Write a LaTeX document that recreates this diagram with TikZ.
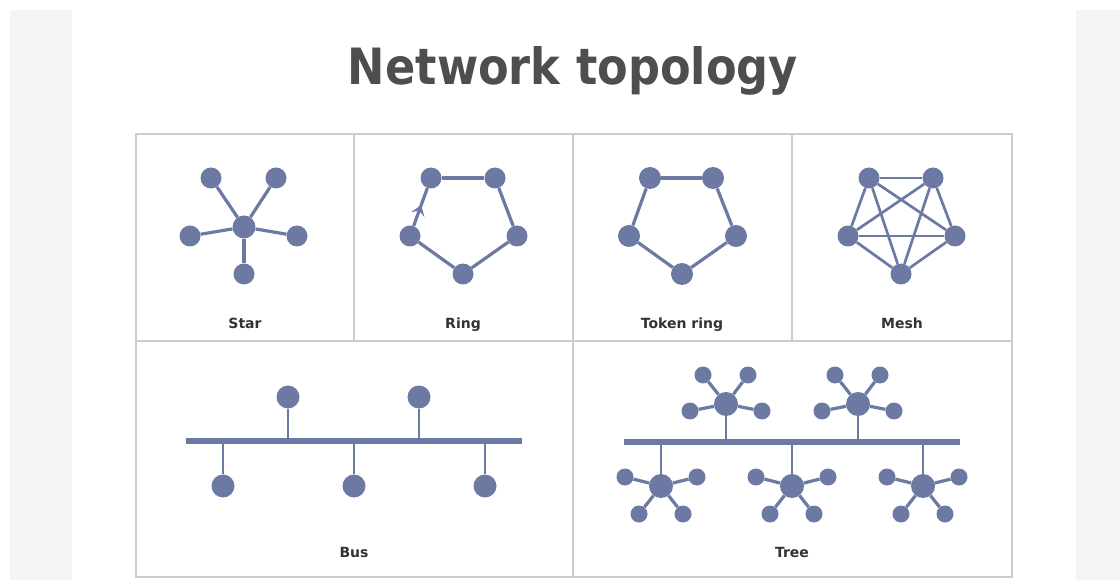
\documentclass[tikz,border=0pt]{standalone}
\usepackage{graphicx}
\usepackage{fontspec}
\setmainfont{DejaVu Sans}
\usetikzlibrary{decorations.markings,arrows.meta}
\definecolor{nodec}{RGB}{108,122,163}
\definecolor{gridc}{RGB}{204,204,204}
\definecolor{titlec}{RGB}{77,78,80}
\definecolor{labc}{RGB}{50,50,52}
\definecolor{stripc}{RGB}{244,244,244}
\begin{document}
\begin{tikzpicture}[x=1pt,y=-1pt,
  nd/.style={circle,fill=nodec,inner sep=0pt,minimum size=21pt},
  hub/.style={circle,fill=nodec,inner sep=0pt,minimum size=24pt},
  leaf/.style={circle,fill=nodec,inner sep=0pt,minimum size=17pt},
  ln/.style={draw=nodec,line width=3.2pt},
  thin ln/.style={draw=nodec,line width=2.7pt},
  stem/.style={draw=nodec,line width=2.8pt},
  busline/.style={draw=nodec,line width=5.5pt},
  grid line/.style={draw=gridc,line width=1.6pt},
  lab/.style={text=labc,font=\bfseries\fontsize{14}{16}\selectfont,anchor=base,inner sep=0pt},
  midarrow/.style={postaction={decorate},decoration={markings,mark=at position 0.55 with {\arrow{Stealth[length=10pt,width=14pt,inset=4pt]}}}}
]
\useasboundingbox (0,0) rectangle (1120,580);
\fill[white] (0,0) rectangle (1120,580);
% side strips
\fill[stripc] (10,10) rectangle (72,580);
\fill[stripc] (1076,10) rectangle (1120,580);

% title
\node[text=titlec,anchor=base,inner sep=0pt] (title) at (573,85) {\resizebox{450pt}{38pt}{\bfseries Network topology}};

% grid
\draw[grid line] (136,134) rectangle (1012,577);
\draw[grid line] (136,341) -- (1012,341);
\draw[grid line] (354,134) -- (354,341);
\draw[grid line] (573,134) -- (573,577);
\draw[grid line] (792,134) -- (792,341);

% ---- Star ----
\node[nd,minimum size=23pt] (sc) at (244,227) {};
\node[nd] (s1) at (211,178) {};
\node[nd] (s2) at (276,178) {};
\node[nd] (s3) at (190,236) {};
\node[nd] (s4) at (297,236) {};
\node[nd] (s5) at (244,274) {};
\foreach \i in {1,...,5} \draw[ln] (sc) -- (s\i);
\node[lab] (lstar) at (245,329) {Star};

% ---- Ring ----
\node[nd] (r1) at (431,178) {};
\node[nd] (r2) at (495,178) {};
\node[nd] (r3) at (410,236) {};
\node[nd] (r4) at (517,236) {};
\node[nd] (r5) at (463,274) {};
\draw[ln] (r1) -- (r2);
\draw[ln] (r2) -- (r4);
\draw[ln] (r4) -- (r5);
\draw[ln] (r5) -- (r3);
\draw[ln,midarrow] (r3) -- (r1);
\node[lab] (lring) at (463,329) {Ring};

% ---- Token ring ----
\node[nd,minimum size=22pt] (t1) at (650,178) {};
\node[nd,minimum size=22pt] (t2) at (713,178) {};
\node[nd,minimum size=22pt] (t3) at (629,236) {};
\node[nd,minimum size=22pt] (t4) at (736,236) {};
\node[nd,minimum size=22pt] (t5) at (682,274) {};
\draw[ln] (t1) -- (t2);
\draw[ln] (t2) -- (t4);
\draw[ln] (t4) -- (t5);
\draw[ln] (t5) -- (t3);
\draw[ln] (t3) -- (t1);
\node[lab] (ltoken) at (682,329) {Token ring};

% ---- Mesh ----
\node[nd] (m1) at (869,178) {};
\node[nd] (m2) at (933,178) {};
\node[nd] (m3) at (848,236) {};
\node[nd] (m4) at (955,236) {};
\node[nd] (m5) at (901,274) {};
\foreach \a/\b in {1/2,1/3,1/4,1/5,2/3,2/4,2/5,3/4,3/5,4/5} \draw[thin ln] (m\a) -- (m\b);
\node[lab] (lmesh) at (902,329) {Mesh};

% ---- Bus ----
\coordinate (bl) at (186,441);
\coordinate (br) at (522,441);
\draw[busline] (bl) -- (br);
\foreach \n/\x in {a/288,b/419} {
  \node[nd,minimum size=23pt] (bu\n) at (\x,397) {};
  \coordinate (bu\n c) at (\x,441);
  \draw[stem] (bu\n) -- (bu\n c);
}
\foreach \n/\x in {c/223,d/354,e/485} {
  \node[nd,minimum size=23pt] (bu\n) at (\x,486) {};
  \coordinate (bu\n c) at (\x,441);
  \draw[stem] (bu\n) -- (bu\n c);
}
\node[lab] (lbus) at (354,557) {Bus};

% ---- Tree ----
\coordinate (tl) at (624,442);
\coordinate (tr) at (960,442);
\draw[busline] (tl) -- (tr);
\foreach \n/\x in {a/726,b/858} {
  \node[hub] (h\n) at (\x,404) {};
  \node[leaf] (h\n1) at (\x-23,375) {};
  \node[leaf] (h\n2) at (\x+22,375) {};
  \node[leaf] (h\n3) at (\x-36,411) {};
  \node[leaf] (h\n4) at (\x+36,411) {};
  \foreach \k in {1,...,4} \draw[ln] (h\n) -- (h\n\k);
  \coordinate (h\n c) at (\x,442);
  \draw[stem] (h\n) -- (h\n c);
}
\foreach \n/\x in {c/661,d/792,e/923} {
  \node[hub] (h\n) at (\x,486) {};
  \node[leaf] (h\n1) at (\x-36,477) {};
  \node[leaf] (h\n2) at (\x+36,477) {};
  \node[leaf] (h\n3) at (\x-22,514) {};
  \node[leaf] (h\n4) at (\x+22,514) {};
  \foreach \k in {1,...,4} \draw[ln] (h\n) -- (h\n\k);
  \coordinate (h\n c) at (\x,442);
  \draw[stem] (h\n) -- (h\n c);
}
\node[lab] (ltree) at (792,557) {Tree};
\end{tikzpicture}
\end{document}
